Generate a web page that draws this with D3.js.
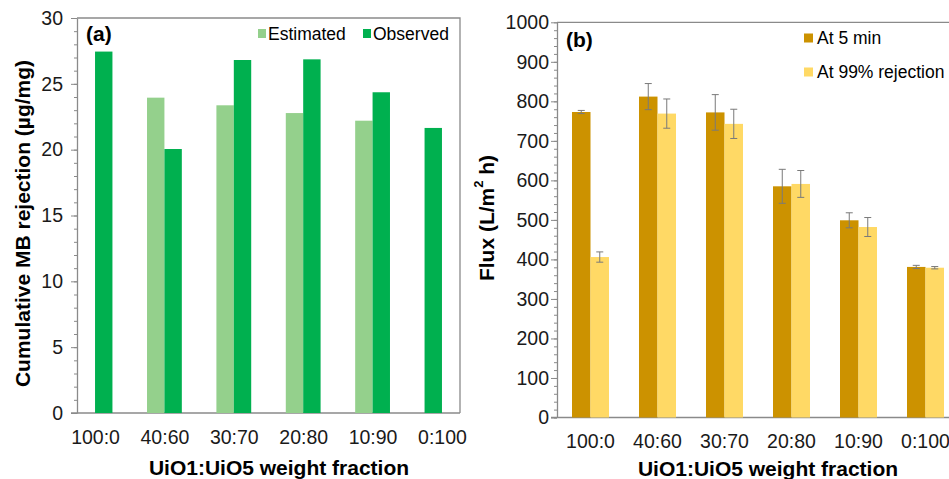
<!DOCTYPE html>
<html>
<head>
<meta charset="utf-8">
<script src="https://cdn.jsdelivr.net/npm/d3@7"></script>
<style>
  body { margin: 0; background: #fff; }
  svg { display: block; font-family: "Liberation Sans", Arial, sans-serif; }
</style>
</head>
<body>
<div id="chart"></div>
<script>
// (a) cumulative MB rejection, (b) flux
const categories = ["100:0", "40:60", "30:70", "20:80", "10:90", "0:100"];

const estimated = [null, 23.95, 23.37, 22.78, 22.2, 21.65];
const observed = [27.45, 20.05, 26.81, 26.86, 24.36, null];
// in the original the 0:100 bar sits in the Estimated slot but is coloured like Observed
const estimatedDark = ["0:100"];

const flux5 = [773, 812, 772, 585, 499, 381];
const flux5Err = [4, 33, 45, 43, 19, 4];
const flux99 = [406, 769, 743, 591, 482, 379];
const flux99Err = [13, 37, 37, 34, 24, 3];

const leftTicks = [0, 5, 10, 15, 20, 25, 30];
const rightTicks = [0, 100, 200, 300, 400, 500, 600, 700, 800, 900, 1000];

const W = 949, H = 479;
const axisColor = "#8a8a8a";
const greenLight = "#94d08c", greenDark = "#00b04f";
const goldDark = "#cc9200", goldLight = "#ffd965";

const svg = d3.select("#chart").append("svg")
    .attr("width", W)
    .attr("height", H);

function styleAxis(g) {
    g.select(".domain").attr("stroke", axisColor).attr("stroke-width", 1.3);
    g.selectAll(".tick line").attr("stroke", axisColor);
    g.selectAll(".tick text").attr("fill", "#1a1a1a").style("font-size", "19.5px");
}

// ---------- panel (a) ----------
{
    const left = 77, right = 460, top = 18, bottom = 413;

    const x = d3.scalePoint().domain(categories).range([left, right]).padding(0.26);
    const y = d3.scaleLinear().domain([0, 30]).range([bottom, top]);
    const bw = 17.4;

    const g = svg.append("g");

    // frame
    g.append("path")
        .attr("d", `M${left},${top}H${right}V${bottom}`)
        .attr("fill", "none")
        .attr("stroke", axisColor)
        .attr("stroke-width", 1.3);

    g.append("g")
        .attr("transform", `translate(${left},0)`)
        .call(d3.axisLeft(y).tickValues(d3.range(0, 31, 1)).tickSize(3).tickFormat(""))
        .call(a => a.select(".domain").remove())
        .selectAll("line").attr("stroke", axisColor);

    g.append("g")
        .attr("transform", `translate(${left},0)`)
        .call(d3.axisLeft(y).tickValues(leftTicks).tickSizeInner(6).tickSizeOuter(0).tickPadding(8))
        .call(styleAxis);

    g.append("g")
        .attr("transform", `translate(0,${bottom})`)
        .call(d3.axisBottom(x).tickSize(0).tickPadding(17))
        .call(styleAxis)
        .call(a => a.select(".domain").attr("d", `M${left - 6},0H${right}`));

    categories.forEach((c, i) => {
        if (estimated[i] != null) {
            g.append("rect")
                .attr("x", x(c) - bw)
                .attr("y", y(estimated[i]))
                .attr("width", bw)
                .attr("height", y(0) - y(estimated[i]))
                .attr("fill", estimatedDark.includes(c) ? greenDark : greenLight);
        }
        if (observed[i] != null) {
            g.append("rect")
                .attr("x", x(c))
                .attr("y", y(observed[i]))
                .attr("width", bw)
                .attr("height", y(0) - y(observed[i]))
                .attr("fill", greenDark);
        }
    });

    g.append("text")
        .attr("transform", `translate(22,${(top + bottom) / 2 + 8}) rotate(-90)`)
        .attr("text-anchor", "middle")
        .attr("dominant-baseline", "central")
        .style("font-size", "21px")
        .style("font-weight", "bold")
        .text("Cumulative MB rejection (µg/mg)");

    g.append("text")
        .attr("x", 279)
        .attr("y", 467)
        .attr("text-anchor", "middle")
        .attr("dominant-baseline", "central")
        .style("font-size", "21px")
        .style("font-weight", "bold")
        .text("UiO1:UiO5 weight fraction");

    g.append("text")
        .attr("x", 86)
        .attr("y", 33)
        .attr("dominant-baseline", "central")
        .style("font-size", "21px")
        .style("font-weight", "bold")
        .text("(a)");

    const legend = [
        { label: "Estimated", color: greenLight, x: 258 },
        { label: "Observed", color: greenDark, x: 363 }
    ];
    legend.forEach(d => {
        g.append("rect").attr("x", d.x).attr("y", 29).attr("width", 8).attr("height", 9).attr("fill", d.color);
        g.append("text")
            .attr("x", d.x + 10)
            .attr("y", 34)
            .attr("dominant-baseline", "central")
            .style("font-size", "17.5px")
            .text(d.label);
    });
}

// ---------- panel (b) ----------
{
    const left = 557, right = 959, top = 22.3, bottom = 417.5;

    const x = d3.scaleBand().domain(categories).range([left, right]);
    const y = d3.scaleLinear().domain([0, 1000]).range([bottom, top]);
    const bw = 18.5;

    const g = svg.append("g");

    g.append("path")
        .attr("d", `M${left},${top}H${right}`)
        .attr("fill", "none")
        .attr("stroke", axisColor)
        .attr("stroke-width", 1.3);

    g.append("g")
        .attr("transform", `translate(${left},0)`)
        .call(d3.axisLeft(y).tickValues(d3.range(0, 1001, 20)).tickSize(3).tickFormat(""))
        .call(a => a.select(".domain").remove())
        .selectAll("line").attr("stroke", axisColor);

    g.append("g")
        .attr("transform", `translate(${left},0)`)
        .call(d3.axisLeft(y).tickValues(rightTicks).tickFormat(d3.format("d"))
            .tickSizeInner(6).tickSizeOuter(0).tickPadding(2))
        .call(styleAxis);

    g.append("g")
        .attr("transform", `translate(0,${bottom})`)
        .call(d3.axisBottom(x).tickSize(0).tickPadding(17))
        .call(styleAxis)
        .call(a => a.select(".domain").attr("d", `M${left - 6},0H${right}`));

    const series = [
        { values: flux5, err: flux5Err, color: goldDark, dx: -bw },
        { values: flux99, err: flux99Err, color: goldLight, dx: 0 }
    ];

    series.forEach(s => {
        categories.forEach((c, i) => {
            const cx = x(c) + x.bandwidth() / 2;
            g.append("rect")
                .attr("x", cx + s.dx)
                .attr("y", y(s.values[i]))
                .attr("width", bw)
                .attr("height", y(0) - y(s.values[i]))
                .attr("fill", s.color);
        });
    });

    // error bars on top
    series.forEach(s => {
        categories.forEach((c, i) => {
            const ex = x(c) + x.bandwidth() / 2 + s.dx + bw / 2;
            const hi = y(s.values[i] + s.err[i]);
            const lo = y(s.values[i] - s.err[i]);
            g.append("path")
                .attr("d", `M${ex},${hi}V${lo}M${ex - 3.5},${hi}H${ex + 3.5}M${ex - 3.5},${lo}H${ex + 3.5}`)
                .attr("fill", "none")
                .attr("stroke", "#7a7a7a")
                .attr("stroke-width", 1);
        });
    });

    g.append("text")
        .attr("transform", `translate(486,218) rotate(-90)`)
        .attr("text-anchor", "middle")
        .attr("dominant-baseline", "central")
        .style("font-size", "21px")
        .style("font-weight", "bold")
        .html('Flux (L/m<tspan baseline-shift="super" font-size="13px">2</tspan> h)');

    g.append("text")
        .attr("x", 768)
        .attr("y", 468)
        .attr("text-anchor", "middle")
        .attr("dominant-baseline", "central")
        .style("font-size", "21px")
        .style("font-weight", "bold")
        .text("UiO1:UiO5 weight fraction");

    g.append("text")
        .attr("x", 566)
        .attr("y", 39)
        .attr("dominant-baseline", "central")
        .style("font-size", "21px")
        .style("font-weight", "bold")
        .text("(b)");

    const legend = [
        { label: "At 5 min", color: goldDark, y: 38 },
        { label: "At 99% rejection", color: goldLight, y: 72 }
    ];
    legend.forEach(d => {
        g.append("rect").attr("x", 804).attr("y", d.y - 4.5).attr("width", 9).attr("height", 9).attr("fill", d.color);
        g.append("text")
            .attr("x", 817)
            .attr("y", d.y)
            .attr("dominant-baseline", "central")
            .style("font-size", "17.5px")
            .text(d.label);
    });
}
</script>
</body>
</html>
